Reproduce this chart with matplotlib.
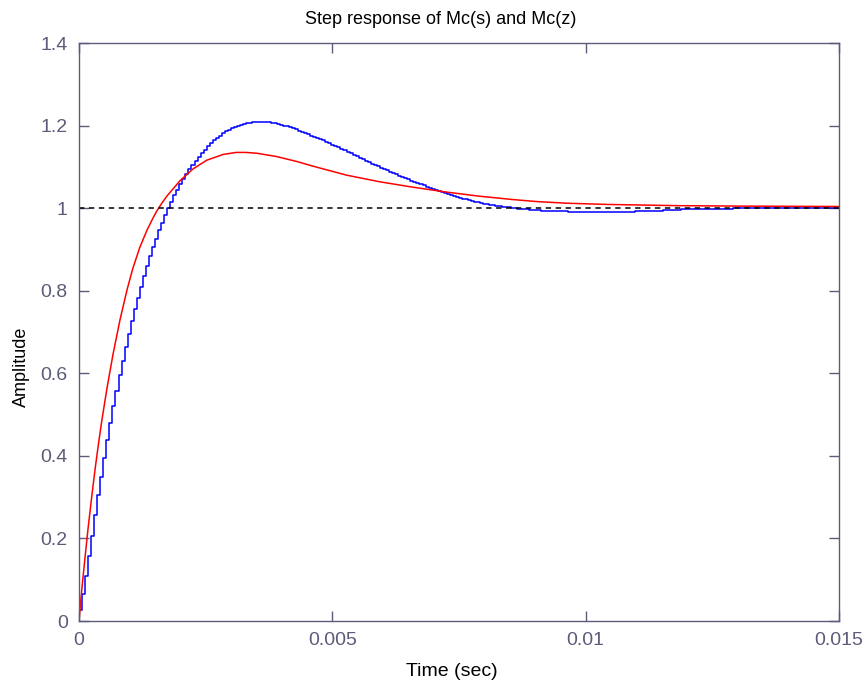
import numpy as np
import matplotlib
matplotlib.use("Agg")
import matplotlib.pyplot as plt
from matplotlib import font_manager

# continuous closed loop Mc(s): time (s) and amplitude
red_t = [0.0, 0.00003, 0.00006, 0.00012, 0.00018, 0.00026, 0.00032, 0.00038,
         0.00045, 0.00055, 0.00067, 0.00081, 0.00095, 0.00106, 0.0012,
         0.00134, 0.00146, 0.00153, 0.00164, 0.00174, 0.00199, 0.00225,
         0.00252, 0.00284, 0.0031, 0.0033, 0.00351, 0.0039, 0.0043, 0.00461,
         0.00528, 0.00593, 0.00658, 0.00725, 0.0079, 0.00855, 0.00903,
         0.00962, 0.01043, 0.01185, 0.013, 0.015]
red_y = [0.0, 0.042, 0.082, 0.155, 0.225, 0.31, 0.37, 0.425,
         0.485, 0.562, 0.645, 0.73, 0.803, 0.853, 0.905,
         0.946, 0.976, 0.992, 1.013, 1.03, 1.066, 1.095,
         1.116, 1.130, 1.135, 1.135, 1.133, 1.125, 1.113, 1.102,
         1.080, 1.064, 1.051, 1.039, 1.029, 1.021, 1.016,
         1.012, 1.009, 1.006, 1.005, 1.004]

# discrete Mc(z) samples, sample period Ts
Ts = 6e-5
blue_y = [0.027, 0.065, 0.11, 0.158, 0.207, 0.256, 0.304, 0.35, 0.395, 0.438,
          0.48, 0.52, 0.558, 0.595, 0.63, 0.663, 0.695, 0.726, 0.755, 0.783,
          0.81, 0.836, 0.86, 0.883, 0.905, 0.926, 0.946, 0.965, 0.983, 1.0,
          1.016, 1.031, 1.045, 1.058, 1.071, 1.083, 1.094, 1.105, 1.115, 1.125,
          1.134, 1.142, 1.15, 1.157, 1.164, 1.17, 1.176, 1.181, 1.186, 1.19,
          1.194, 1.197, 1.2, 1.202, 1.204, 1.206, 1.207, 1.208, 1.209, 1.209,
          1.209, 1.209, 1.208, 1.207, 1.206, 1.204, 1.202, 1.2, 1.198, 1.196,
          1.193, 1.191, 1.188, 1.185, 1.182, 1.179, 1.176, 1.173, 1.17, 1.167,
          1.164, 1.16, 1.157, 1.154, 1.15, 1.147, 1.143, 1.14, 1.136, 1.133,
          1.129, 1.126, 1.122, 1.119, 1.115, 1.112, 1.108, 1.105, 1.102, 1.098,
          1.095, 1.092, 1.088, 1.085, 1.082, 1.079, 1.076, 1.073, 1.07, 1.067,
          1.064, 1.061, 1.058, 1.055, 1.052, 1.049, 1.047, 1.044, 1.041, 1.039,
          1.036, 1.034, 1.031, 1.029, 1.027, 1.025, 1.023, 1.021, 1.019, 1.017,
          1.015, 1.014, 1.012, 1.011, 1.009, 1.008, 1.007, 1.006, 1.005, 1.004,
          1.003, 1.002, 1.001, 1.0, 0.999, 0.998, 0.998, 0.997, 0.996, 0.996,
          0.995, 0.995, 0.994, 0.994, 0.993, 0.993, 0.993, 0.992, 0.992, 0.992,
          0.992, 0.991, 0.991, 0.991, 0.991, 0.991, 0.991, 0.990, 0.990, 0.990,
          0.990, 0.990, 0.990, 0.990, 0.990, 0.990, 0.990, 0.990, 0.990, 0.990,
          0.991, 0.991, 0.991, 0.992, 0.992, 0.992, 0.993, 0.993, 0.993, 0.994,
          0.994, 0.994, 0.995, 0.995, 0.995, 0.996, 0.996, 0.996, 0.997, 0.997,
          0.997, 0.997, 0.998, 0.998, 0.998, 0.998, 0.998, 0.999, 0.999, 0.999,
          0.999, 0.999, 0.999, 0.999, 0.999, 1.0, 1.0]
t_end = 0.015

x_ticks = [0, 0.005, 0.01, 0.015]
x_labels = ["0", "0.005", "0.01", "0.015"]
y_ticks = [0, 0.2, 0.4, 0.6, 0.8, 1.0, 1.2, 1.4]
y_labels = ["0", "0.2", "0.4", "0.6", "0.8", "1", "1.2", "1.4"]

names = {f.name for f in font_manager.fontManager.ttflist}
if "Liberation Sans Narrow" in names:
    plt.rcParams['font.family'] = ['Liberation Sans Narrow', 'DejaVu Sans']
else:
    plt.rcParams['font.family'] = ['Liberation Sans', 'DejaVu Sans']

axis_col = '#5c5c7a'

fig = plt.figure(figsize=(8.67, 6.84), dpi=100)
ax = fig.add_axes([0.0911, 0.0921, 0.8766, 0.845])

# stairs for the sampled response, held out to the final time
bt = np.arange(len(blue_y)) * Ts
bt = np.append(bt, t_end)
by = np.append(blue_y, blue_y[-1])
ax.step(bt, by, where='post', color='#0000ff', lw=1.1)
ax.plot(red_t, red_y, color='#ff0000', lw=1.1)
ax.axhline(1.0, color='black', lw=1.1, ls=(0, (3.5, 3)))

ax.set_xlim(0, 0.015)
ax.set_ylim(0, 1.4)
ax.set_xticks(x_ticks)
ax.set_xticklabels(x_labels)
ax.set_yticks(y_ticks)
ax.set_yticklabels(y_labels)

for s in ax.spines.values():
    s.set_color(axis_col)
    s.set_linewidth(1.0)
ax.tick_params(direction='in', length=7, width=1.0, color=axis_col,
               labelcolor=axis_col, labelsize=14, top=True, right=True, pad=8)

ax.set_title("Step response of Mc(s) and Mc(z)", fontsize=13, x=0.476, pad=14)
ax.set_xlabel("Time (sec)", fontsize=14)
ax.set_ylabel("Amplitude", fontsize=13)
ax.xaxis.set_label_coords(0.49, -0.072)
ax.yaxis.set_label_coords(-0.064, 0.44)

fig.savefig("out.png", dpi=100)
